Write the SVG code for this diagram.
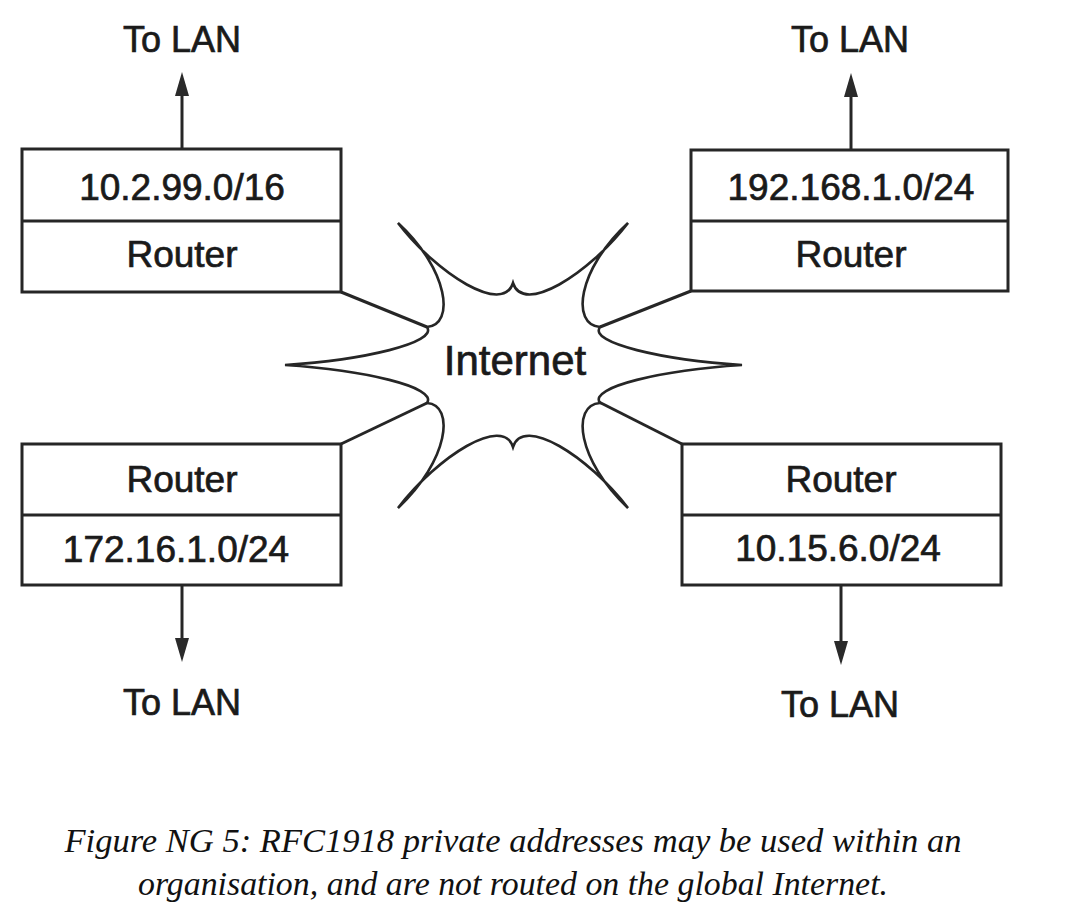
<svg xmlns="http://www.w3.org/2000/svg" width="1068" height="918" viewBox="0 0 1068 918">
  <style>
    .box { fill: #ffffff; stroke: #262626; stroke-width: 3; }
    .div { stroke: #262626; stroke-width: 3; }
    .lbl { font-family: "Liberation Sans", Arial, sans-serif; font-size: 37px; fill: #1a1a1a; stroke: #1a1a1a; stroke-width: 0.7; text-anchor: middle; }
    .lan { font-family: "Liberation Sans", Arial, sans-serif; font-size: 36px; fill: #1a1a1a; stroke: #1a1a1a; stroke-width: 0.7; text-anchor: middle; }
    .conn { stroke: #262626; stroke-width: 3; fill: none; }
    .arrow { stroke: #262626; stroke-width: 3; fill: none; marker-end: url(#ah); }
    .star { fill: #ffffff; stroke: #262626; stroke-width: 2.6; stroke-linejoin: miter; }
    .cap { font-family: "Liberation Serif", "Times New Roman", serif; font-style: italic; font-size: 34px; fill: #111111; text-anchor: middle; }
  </style>
  <defs>
    <marker id="ah" viewBox="0 0 24 14" refX="2" refY="7" markerWidth="24" markerHeight="14" markerUnits="userSpaceOnUse" orient="auto">
      <path d="M0,0 L24,7 L0,14 Z" fill="#2a2a2a"/>
    </marker>
  </defs>
  <rect x="0" y="0" width="1068" height="918" fill="#ffffff"/>

  <g id="connectors">
    <line class="conn" x1="341" y1="292" x2="427" y2="327"/>
    <line class="conn" x1="691" y1="291" x2="600" y2="327"/>
    <line class="conn" x1="341" y1="444" x2="427" y2="403"/>
    <line class="conn" x1="682" y1="444" x2="599" y2="402"/>
    <line class="arrow" x1="182" y1="149" x2="182" y2="94"/>
    <line class="arrow" x1="851" y1="150" x2="851" y2="95"/>
    <line class="arrow" x1="182" y1="585" x2="182" y2="640"/>
    <line class="arrow" x1="841" y1="585" x2="841" y2="643"/>
  </g>

  <g id="internet">
    <path class="star" transform="translate(513,365)" d="M -115,-142 C -75,-90 -10,-50 0,-82 C 10,-50 75,-90 115,-142 C 64,-95 58,-40 87,-38 C 75,-22 150,-5 229,0 C 150,5 75,22 87,38 C 58,40 64,95 115,143 C 75,91 10,50 0,82 C -10,50 -75,91 -115,143 C -64,95 -58,40 -86,38 C -75,22 -150,5 -228,0 C -150,-5 -75,-22 -86,-38 C -58,-40 -64,-95 -115,-142 Z"/>
    <text class="lbl" x="515" y="375" style="font-size:42px">Internet</text>
  </g>

  <g id="router-nw">
    <rect class="box" x="22" y="149" width="319" height="143"/>
    <line class="div" x1="22" y1="221" x2="341" y2="221"/>
    <text class="lbl" x="182" y="200">10.2.99.0/16</text>
    <text class="lbl" x="182" y="267">Router</text>
  </g>
  <g id="lan-nw"><text class="lan" x="182" y="52">To LAN</text></g>

  <g id="router-ne">
    <rect class="box" x="691" y="150" width="317" height="141"/>
    <line class="div" x1="691" y1="221" x2="1008" y2="221"/>
    <text class="lbl" x="851" y="200">192.168.1.0/24</text>
    <text class="lbl" x="851" y="267">Router</text>
  </g>
  <g id="lan-ne"><text class="lan" x="850" y="52">To LAN</text></g>

  <g id="router-sw">
    <rect class="box" x="22" y="444" width="319" height="141"/>
    <line class="div" x1="22" y1="515" x2="341" y2="515"/>
    <text class="lbl" x="182" y="492">Router</text>
    <text class="lbl" x="176" y="562">172.16.1.0/24</text>
  </g>
  <g id="lan-sw"><text class="lan" x="182" y="715">To LAN</text></g>

  <g id="router-se">
    <rect class="box" x="682" y="444" width="319" height="141"/>
    <line class="div" x1="682" y1="515" x2="1001" y2="515"/>
    <text class="lbl" x="841" y="492">Router</text>
    <text class="lbl" x="838" y="561">10.15.6.0/24</text>
  </g>
  <g id="lan-se"><text class="lan" x="840" y="717">To LAN</text></g>

  <g id="caption">
    <text class="cap" x="513" y="852" textLength="897" lengthAdjust="spacingAndGlyphs">Figure NG 5: RFC1918 private addresses may be used within an</text>
    <text class="cap" x="513" y="895" textLength="750" lengthAdjust="spacingAndGlyphs">organisation, and are not routed on the global Internet.</text>
  </g>
</svg>
